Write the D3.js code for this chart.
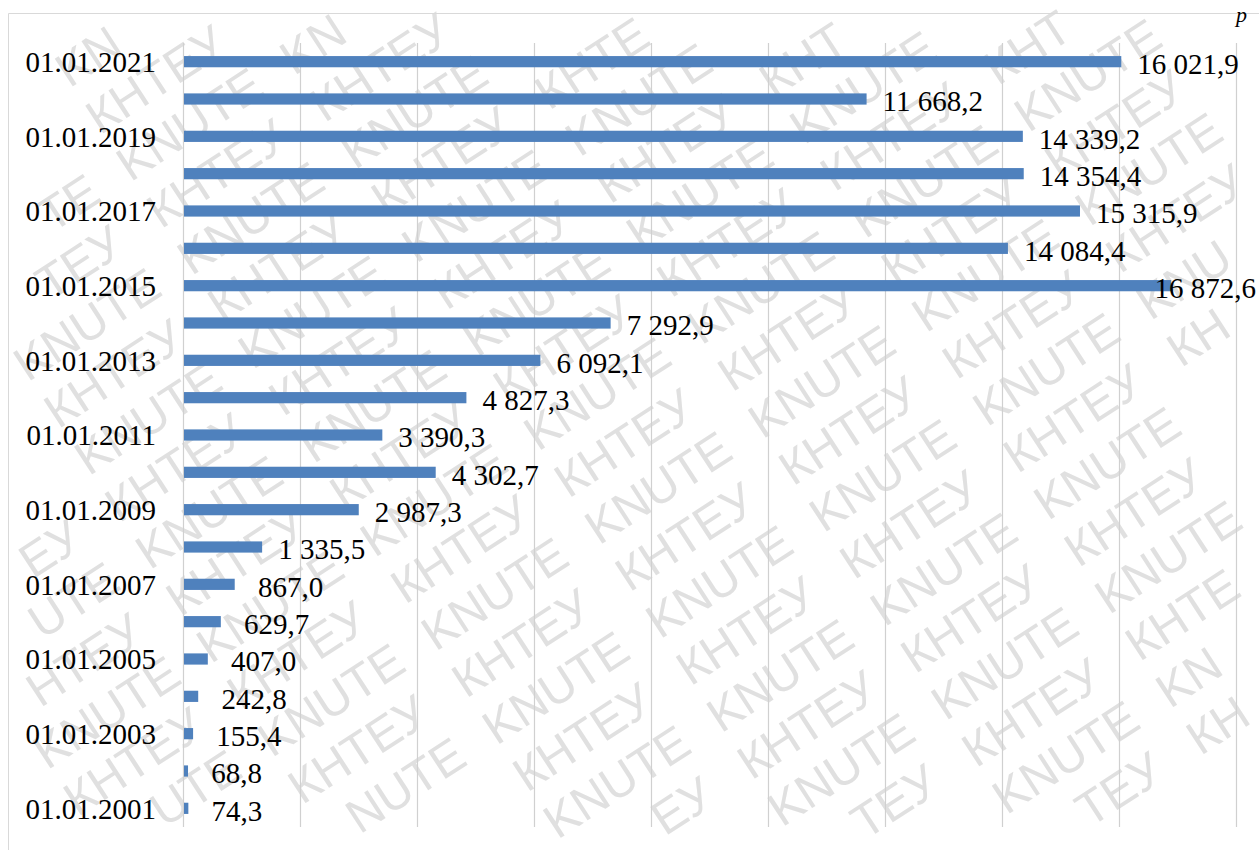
<!DOCTYPE html>
<html>
<head>
<meta charset="utf-8">
<script src="https://cdn.jsdelivr.net/npm/d3@7"></script>
<style>
  html, body { margin: 0; padding: 0; background: #ffffff; }
  svg { display: block; }
</style>
</head>
<body>
<script>
// ---- data ----
const categories = ["01.01.2001","01.01.2002","01.01.2003","01.01.2004","01.01.2005","01.01.2006","01.01.2007",
  "01.01.2008","01.01.2009","01.01.2010","01.01.2011","01.01.2012","01.01.2013","01.01.2014","01.01.2015",
  "01.01.2016","01.01.2017","01.01.2018","01.01.2019","01.01.2020","01.01.2021"];
const values = [74.3, 68.8, 155.4, 242.8, 407.0, 629.7, 867.0, 1335.5, 2987.3, 4302.7, 3390.3,
  4827.3, 6092.1, 7292.9, 16872.6, 14084.4, 15315.9, 14354.4, 14339.2, 11668.2, 16021.9];
const xTicks = [0, 2000, 4000, 6000, 8000, 10000, 12000, 14000, 16000, 18000];
const shownCategoryLabels = ["01.01.2001","01.01.2003","01.01.2005","01.01.2007","01.01.2009","01.01.2011",
  "01.01.2013","01.01.2015","01.01.2017","01.01.2019","01.01.2021"];
const watermarkWords = ["KNUTE", "КНТЕУ"];
const cornerText = "р";

const W = 1259, H = 850;
const SERIF = '"Liberation Serif"';
const data = categories.map((c, i) => ({cat: c, value: values[i]}));

const svg = d3.select("body").append("svg").attr("width", W).attr("height", H);
svg.append("rect").attr("width", W).attr("height", H).attr("fill", "#ffffff");

// ---- watermark (rows alternate between the two words) ----
const wm = svg.append("g").attr("transform", "rotate(-33)");
const wmCells = [];
d3.range(-16, 30).forEach(r => {
  d3.range(-8, 14).forEach(k => {
    wmCells.push({word: watermarkWords[((r % 2) + 2) % 2], u: k * 195 + 10, v: r * 56});
  });
});
const inside = el => {
  const b = el.getBoundingClientRect();
  return b.left >= 0 && b.top >= 0 && b.right <= W && b.bottom <= H;
};
wm.selectAll("text").data(wmCells).join("text")
  .attr("x", d => d.u).attr("y", d => d.v)
  .style("font-family", '"Liberation Sans"')
  .style("font-size", "48px")
  .attr("fill", "#e0e0e0")
  .text(d => d.word)
  .each(function (d) {
    if (inside(this)) return;
    // words at the picture's edge: keep the longest part of the word that fits
    const n = d.word.length;
    let best = null;
    for (let len = n - 1; len >= 2 && !best; len--) {
      for (let s = 0; s + len <= n && !best; s++) {
        const pre = d.word.slice(0, s);
        this.textContent = pre;
        const off = s > 0 ? this.getComputedTextLength() : 0;
        this.textContent = d.word.slice(s, s + len);
        this.setAttribute("x", d.u + off);
        if (inside(this)) best = true;
      }
    }
    if (!best) this.remove();
  });

// ---- frame ----
svg.append("path")
  .attr("d", `M8.5,${H} V13.5 H${W}`)
  .attr("fill", "none").attr("stroke", "#d9d9d9").attr("stroke-width", 1);

// ---- scales ----
const x = d3.scaleLinear().domain([0, 18000]).range([183, 1236]);
const y = d3.scaleBand().domain(categories.slice().reverse())
  .range([43, 827]).paddingInner(0.7).paddingOuter(0.35);

// ---- grid ----
svg.append("g").selectAll("line").data(xTicks).join("line")
  .attr("x1", d => Math.round(x(d)) + 0.5).attr("x2", d => Math.round(x(d)) + 0.5)
  .attr("y1", 43).attr("y2", 827)
  .attr("stroke", "#d0d0d0").attr("stroke-width", 1.2);

// ---- bars ----
svg.append("g").selectAll("rect").data(data).join("rect")
  .attr("x", x(0) + 1)
  .attr("y", d => y(d.cat))
  .attr("width", d => Math.max(2.5, x(d.value) - x(0)))
  .attr("height", y.bandwidth())
  .attr("fill", "#4f81bd");

// ---- category axis ----
const yAxis = d3.axisLeft(y).tickSize(0).tickPadding(27)
  .tickFormat(d => shownCategoryLabels.includes(d) ? d : "");
const ya = svg.append("g").attr("transform", `translate(${x(0)},0)`).call(yAxis);
ya.select(".domain").remove();
ya.selectAll("text")
  .style("font-family", SERIF)
  .style("font-size", "29px").attr("fill", "#000").attr("dy", "0.36em");

// ---- value labels ----
const loc = d3.formatLocale({decimal: ",", thousands: " ", grouping: [3], currency: ["", ""]});
const fmt = loc.format(",.1f");
const labels = svg.append("g").selectAll("text").data(data).join("text")
  .attr("y", d => y(d.cat) + y.bandwidth() / 2)
  .attr("dy", "0.42em")
  .style("font-family", SERIF)
  .style("font-size", "29px").attr("fill", "#000")
  .text(d => (d.value < 1000 ? "\u00a0" : "") + fmt(d.value));
labels.attr("x", function (d) {
  const wText = this.getComputedTextLength();
  return Math.min(Math.max(x(0) + 2.5, x(d.value)) + 17, W - 3 - wText);
});

// ---- corner text ----
svg.append("text").attr("x", 1236).attr("y", 22)
  .style("font-family", SERIF)
  .style("font-style", "italic").style("font-size", "22px").attr("fill", "#000")
  .text(cornerText);
</script>
</body>
</html>
